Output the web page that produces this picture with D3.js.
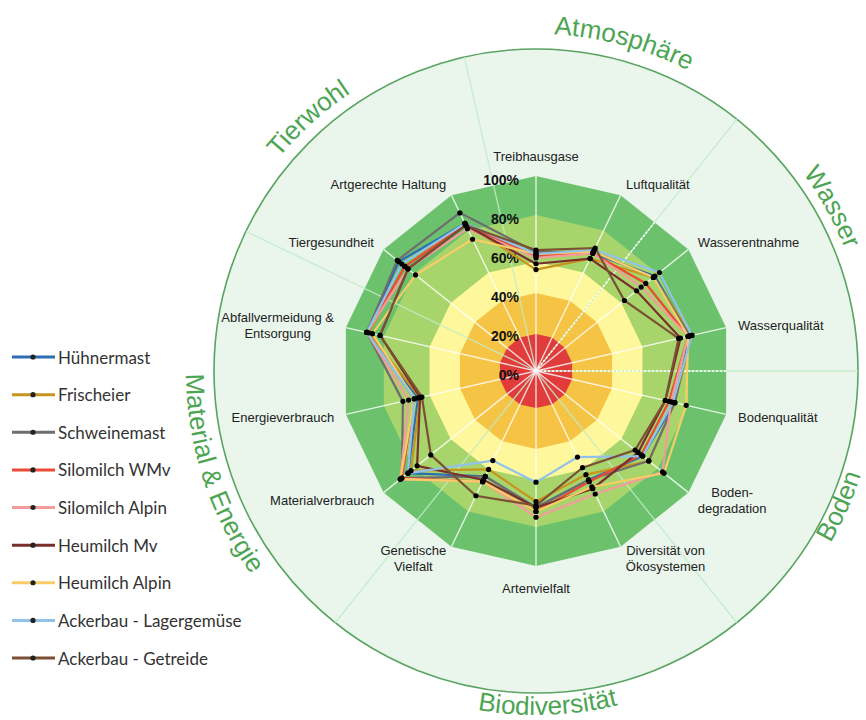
<!DOCTYPE html>
<html>
<head>
<meta charset="utf-8">
<script src="https://cdn.jsdelivr.net/npm/d3@7"></script>
<style>
  body { margin: 0; background: #fff; }
  svg { display: block; }
</style>
</head>
<body>
<svg width="866" height="720"></svg>
<script>
// indicator axes, clockwise from top
var axes = ["Treibhausgase", "Luftqualität", "Wasserentnahme", "Wasserqualität",
  "Bodenqualität", "Boden-\ndegradation", "Diversität von\nÖkosystemen", "Artenvielfalt",
  "Genetische\nVielfalt", "Materialverbrauch", "Energieverbrauch",
  "Abfallvermeidung &\nEntsorgung", "Tiergesundheit", "Artgerechte Haltung"];

var seriesNames = ["Hühnermast", "Frischeier", "Schweinemast", "Silomilch WMv",
  "Silomilch Alpin", "Heumilch Mv", "Heumilch Alpin", "Ackerbau - Lagergemüse",
  "Ackerbau - Getreide"];
var seriesColors = ["#2c6db4", "#c8951c", "#6e6e6e", "#ec4a35", "#f39c9c",
  "#7a2f2c", "#f8cd68", "#90c2ea", "#7b5034"];

// values in % per axis
var huehnermast   = [59, 67, 78, 81, 73, 70, 62, 70, 60, 84, 62, 89, 90, 84];
var frischeier    = [52, 64, 77, 82, 73, 74, 59, 67, 56, 82, 61, 88, 86, 84];
var schweinemast  = [61, 68, 77, 81, 73, 74, 62, 70, 60, 88, 70, 89, 91, 90];
var silomilchWMv  = [59, 67, 72, 80, 70, 69, 63, 72, 63, 88, 64, 89, 86, 83];
var silomilchAlp  = [58, 67, 69, 80, 71, 83, 70, 75, 63, 89, 67, 89, 84, 81];
var heumilchMv    = [55, 64, 66, 76, 68, 67, 67, 70, 62, 78, 61, 82, 84, 83];
var heumilchAlp   = [60, 68, 77, 80, 79, 84, 66, 72, 63, 89, 64, 86, 79, 75];
var lagergemuese  = [60, 69, 81, 82, 72, 70, 49, 57, 51, 84, 64, 89, 88, 84];
var getreide      = [62, 70, 58, 75, 68, 65, 55, 69, 71, 69, 60, 82, 84, 83];
var seriesValues = [huehnermast, frischeier, schweinemast, silomilchWMv, silomilchAlp,
  heumilchMv, heumilchAlp, lagergemuese, getreide];

var tickValues = [0, 20, 40, 60, 80, 100];
var zoneLimits = [100, 80, 56, 40, 19];
var zoneColors = ["#6cc26c", "#a7d56b", "#fff79b", "#f6c445", "#e03c3c"];

var groups = ["Atmosphäre", "Wasser", "Boden", "Biodiversität", "Material & Energie", "Tierwohl"];
var groupBorders = [1.5, 3.5, 5.5, 8.5, 11.5, 13.5];   // in axis units
var dottedBorders = [1.5, 3.5];

var svg = d3.select("svg");
var cx = 536, cy = 371, R = 195, outerR = 322;

var n = axes.length;
var r = d3.scaleLinear().domain([0, 100]).range([0, R]);
var angle = d3.scaleLinear().domain([0, n]).range([0, 2 * Math.PI]);

function px(a, rad) { return rad * Math.sin(a); }
function py(a, rad) { return -rad * Math.cos(a); }

var g = svg.append("g").attr("transform", "translate(" + cx + "," + cy + ")");

// big background circle
g.append("circle").attr("r", outerR)
  .attr("fill", "#eaf6ec").attr("stroke", "#5aa462").attr("stroke-width", 1.6);

// zone polygons
var ring = d3.lineRadial()
  .angle(function(d, i) { return angle(i); })
  .radius(function(d) { return r(d); })
  .curve(d3.curveLinearClosed);

zoneLimits.forEach(function(v, k) {
  g.append("path")
    .attr("d", ring(axes.map(function() { return v; })))
    .attr("fill", zoneColors[k]);
});

// group borders
groupBorders.forEach(function(b) {
  var a = angle(b);
  g.append("line")
    .attr("x1", 0).attr("y1", 0)
    .attr("x2", px(a, outerR)).attr("y2", py(a, outerR))
    .attr("stroke", "#c2ebc8").attr("stroke-opacity", 0.85).attr("stroke-width", 1.3);
});

// axis lines
axes.forEach(function(name, i) {
  var a = angle(i);
  g.append("line")
    .attr("x1", 0).attr("y1", 0)
    .attr("x2", px(a, r(100))).attr("y2", py(a, r(100)))
    .attr("stroke", "#ffffff").attr("stroke-opacity", 0.8).attr("stroke-width", 1.4);
});

// dotted group borders inside the polygon
dottedBorders.forEach(function(b) {
  var a = angle(b);
  var rr = R * Math.cos(Math.PI / n);
  g.append("line")
    .attr("x1", 0).attr("y1", 0)
    .attr("x2", px(a, rr)).attr("y2", py(a, rr))
    .attr("stroke", "#ffffff").attr("stroke-width", 1.6)
    .attr("stroke-dasharray", "2,2");
});

// percentage labels
g.selectAll("text.tick").data(tickValues).enter().append("text")
  .attr("class", "tick")
  .attr("x", -17)
  .attr("y", function(d) { return -r(d) + 4; })
  .attr("text-anchor", "end")
  .attr("dominant-baseline", "central")
  .style("font-family", "Liberation Sans, Arial, sans-serif")
  .style("font-weight", "bold")
  .style("font-size", "14px")
  .attr("fill", "#111")
  .text(function(d) { return d + "%"; });

// series
var line = d3.lineRadial()
  .angle(function(d, i) { return angle(i); })
  .radius(function(d) { return r(d); })
  .curve(d3.curveLinearClosed);

seriesValues.forEach(function(vals, s) {
  g.append("path")
    .attr("d", line(vals))
    .attr("fill", "none")
    .attr("stroke", seriesColors[s])
    .attr("stroke-width", 2.2);
});
seriesValues.forEach(function(vals, s) {
  g.selectAll(null).data(vals).enter().append("circle")
    .attr("cx", function(d, i) { return px(angle(i), r(d)); })
    .attr("cy", function(d, i) { return py(angle(i), r(d)); })
    .attr("r", 2.6)
    .attr("fill", "#000");
});

// axis labels
axes.forEach(function(name, i) {
  var a = angle(i);
  var s = Math.sin(a), c = Math.cos(a);
  var lr = R + 12;
  var x = px(a, lr), y = py(a, lr);
  if (c > 0.95) y -= 8;
  if (c < -0.95) y += 10;
  var lines = name.split("\n");
  var t = g.append("text")
    .style("font-family", "Liberation Sans, Arial, sans-serif")
    .style("font-size", "13px")
    .attr("fill", "#222");
  lines.forEach(function(l, k) {
    t.append("tspan").attr("x", 0).attr("y", (k - (lines.length - 1) / 2) * 16).text(l);
  });
  t.attr("dominant-baseline", "central").attr("text-anchor", "middle");
  var w = t.node().getBBox().width;
  if (s > 0.1) x += w / 2;
  else if (s < -0.1) x -= w / 2;
  t.attr("transform", "translate(" + x + "," + y + ")");
});

// curved group labels
var groupLabels = [
  { name: groups[0], at: 15, rad: 337, cw: true },
  { name: groups[1], at: 61, rad: 332, cw: true },
  { name: groups[2], at: 114, rad: 341, cw: false },
  { name: groups[3], at: 178, rad: 344, cw: false },
  { name: groups[4], at: 252, rad: 350, cw: false },
  { name: groups[5], at: 318, rad: 334, cw: true }
];
var defs = svg.append("defs");
groupLabels.forEach(function(gl, k) {
  var a0 = (gl.at - 70) * Math.PI / 180, a1 = (gl.at + 70) * Math.PI / 180;
  var p0 = gl.cw ? a0 : a1, p1 = gl.cw ? a1 : a0;
  var d = "M" + (cx + px(p0, gl.rad)) + "," + (cy + py(p0, gl.rad)) +
    " A" + gl.rad + "," + gl.rad + " 0 0 " + (gl.cw ? 1 : 0) + " " +
    (cx + px(p1, gl.rad)) + "," + (cy + py(p1, gl.rad));
  defs.append("path").attr("id", "gp" + k).attr("d", d);
  svg.append("text")
    .style("font-family", "Liberation Sans, Arial, sans-serif")
    .style("font-size", "26px")
    .attr("fill", "#4da553")
    .append("textPath")
    .attr("href", "#gp" + k)
    .attr("startOffset", "50%")
    .attr("text-anchor", "middle")
    .text(gl.name);
});

// legend
var ly = d3.scalePoint().domain(seriesNames).range([357, 658]);
var legend = svg.append("g");
seriesNames.forEach(function(name, s) {
  var y = ly(name);
  legend.append("line").attr("x1", 12).attr("x2", 55).attr("y1", y).attr("y2", y)
    .attr("stroke", seriesColors[s]).attr("stroke-width", 3);
  legend.append("circle").attr("cx", 33).attr("cy", y).attr("r", 2.6).attr("fill", "#222");
  legend.append("text").attr("x", 58).attr("y", y)
    .attr("dominant-baseline", "central")
    .style("font-family", "Lato, sans-serif")
    .style("font-size", "17px")
    .attr("fill", "#333")
    .text(name);
});
</script>
</body>
</html>
